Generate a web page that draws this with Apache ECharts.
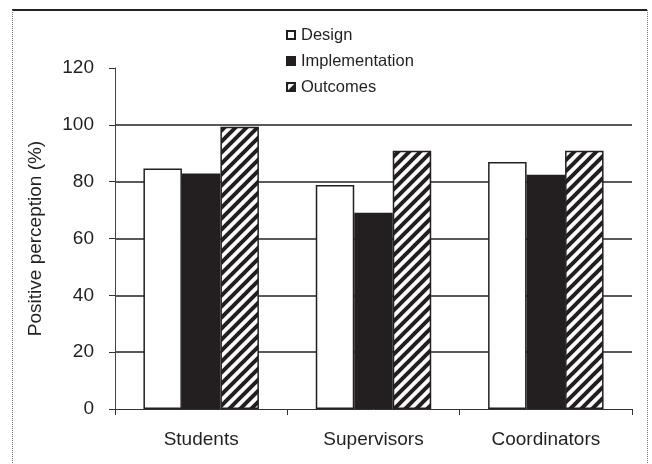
<!DOCTYPE html>
<html>
<head>
<meta charset="utf-8">
<script src="https://cdn.jsdelivr.net/npm/echarts@6/dist/echarts.min.js"></script>
<style>
html,body{margin:0;padding:0;background:#fff;}
#chart{width:652px;height:464px;}
</style>
</head>
<body>
<div id="chart"></div>
<script>
const categories = ['Students', 'Supervisors', 'Coordinators'];
const seriesNames = ['Design', 'Implementation', 'Outcomes'];
const designValues = [84.6, 78.8, 86.9];
const implementationValues = [82.9, 69.1, 82.4];
const outcomesValues = [99.3, 90.9, 90.9];
const yTicks = [0, 20, 40, 60, 80, 100, 120];

const FONT = '"Liberation Sans", Arial, sans-serif';
const INK = '#231f20';

function hatch() {
  const s = 11;
  const c = document.createElement('canvas');
  c.width = s; c.height = s;
  const g = c.getContext('2d');
  g.fillStyle = '#fff';
  g.fillRect(0, 0, s, s);
  g.strokeStyle = INK;
  g.lineWidth = 4;
  g.lineCap = 'square';
  [[-s, s, s, -s], [0, 2 * s, 2 * s, 0]].forEach(function (l) {
    g.beginPath(); g.moveTo(l[0], l[1]); g.lineTo(l[2], l[3]); g.stroke();
  });
  g.beginPath(); g.moveTo(0, s); g.lineTo(s, 0); g.stroke();
  return c;
}

const chart = echarts.init(document.getElementById('chart'), null, {renderer: 'canvas'});

const barCommon = {
  type: 'bar',
  barGap: '0%',
  barCategoryGap: '33%'
};

chart.setOption({
  animation: false,
  backgroundColor: '#fff',
  textStyle: {fontFamily: FONT},
  grid: {left: 115, right: 20, top: 68, bottom: 55, containLabel: false},
  legend: {
    orient: 'vertical',
    left: 281,
    top: 21,
    icon: 'rect',
    itemWidth: 8,
    itemHeight: 8,
    itemGap: 8,
    data: seriesNames,
    textStyle: {fontFamily: FONT, fontSize: 16.5, color: INK, lineHeight: 18, padding: [0, 0, 0, 1]}
  },
  xAxis: {
    type: 'category',
    data: categories,
    boundaryGap: true,
    axisLine: {show: true, lineStyle: {color: '#333', width: 1}},
    axisTick: {show: true, length: 6, interval: 0, lineStyle: {color: '#333'}},
    axisLabel: {fontFamily: FONT, fontSize: 19, color: INK, margin: 21}
  },
  yAxis: {
    type: 'value',
    min: yTicks[0],
    max: yTicks[yTicks.length - 1],
    interval: 20,
    name: 'Positive perception (%)',
    nameLocation: 'middle',
    nameRotate: 90,
    nameGap: 70,
    nameTextStyle: {fontFamily: FONT, fontSize: 19, color: INK},
    axisLine: {show: true, lineStyle: {color: '#444', width: 1}},
    axisTick: {show: true, length: 6, lineStyle: {color: '#333'}},
    axisLabel: {fontFamily: FONT, fontSize: 19, color: INK, margin: 21},
    splitLine: {show: true, showMinLine: false, showMaxLine: false, lineStyle: {color: '#222', width: 1.5}}
  },
  graphic: [
    {type: 'line', shape: {x1: 12, y1: 10, x2: 647, y2: 10}, style: {stroke: '#222', lineWidth: 2}, silent: true},
    {type: 'line', shape: {x1: 12.5, y1: 10, x2: 12.5, y2: 464}, style: {stroke: '#777', lineWidth: 1, lineDash: [1, 1]}, silent: true},
    {type: 'line', shape: {x1: 647.5, y1: 10, x2: 647.5, y2: 464}, style: {stroke: '#777', lineWidth: 1, lineDash: [1, 1]}, silent: true}
  ],
  series: [
    Object.assign({}, barCommon, {
      name: seriesNames[0],
      data: designValues,
      itemStyle: {color: '#fff', borderColor: INK, borderWidth: 1.5}
    }),
    Object.assign({}, barCommon, {
      name: seriesNames[1],
      data: implementationValues,
      itemStyle: {color: INK, borderColor: INK, borderWidth: 1.5}
    }),
    Object.assign({}, barCommon, {
      name: seriesNames[2],
      data: outcomesValues,
      itemStyle: {color: {image: hatch(), repeat: 'repeat'}, borderColor: INK, borderWidth: 1.5}
    })
  ]
});
</script>
</body>
</html>
